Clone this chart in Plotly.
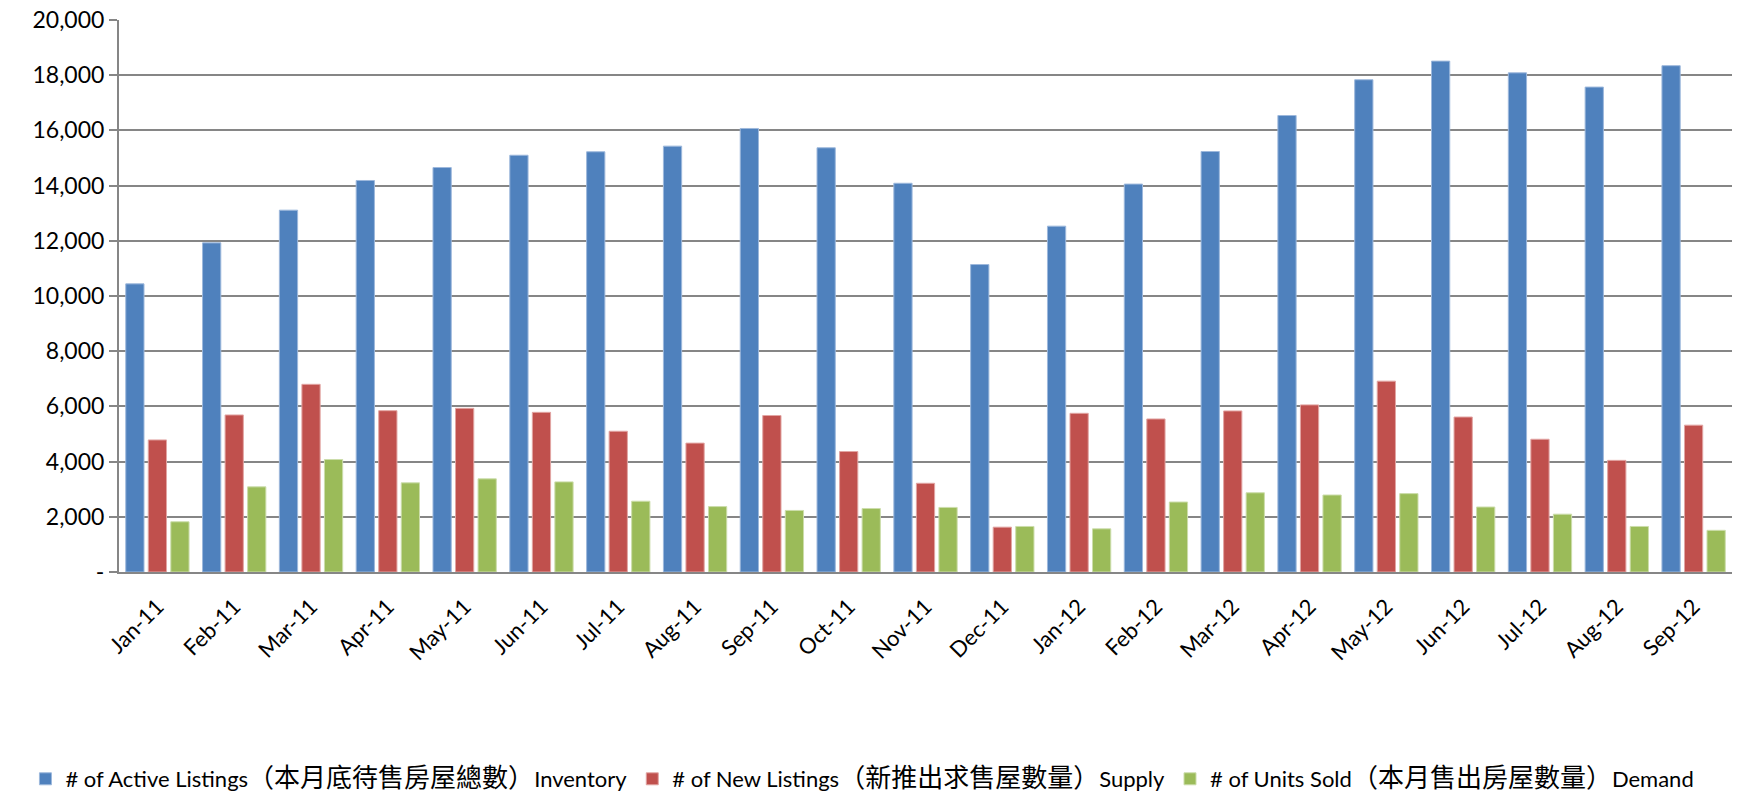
import plotly.graph_objects as go

months = ["Jan-11", "Feb-11", "Mar-11", "Apr-11", "May-11", "Jun-11", "Jul-11",
          "Aug-11", "Sep-11", "Oct-11", "Nov-11", "Dec-11", "Jan-12", "Feb-12",
          "Mar-12", "Apr-12", "May-12", "Jun-12", "Jul-12", "Aug-12", "Sep-12"]

active_listings = [10440, 11925, 13110, 14185, 14655, 15100, 15225,
                   15430, 16070, 15370, 14085, 11140, 12530, 14055,
                   15235, 16540, 17835, 18510, 18085, 17570, 18345]

new_listings = [4785, 5690, 6800, 5845, 5930, 5785, 5100,
                4670, 5670, 4365, 3215, 1625, 5750, 5545,
                5835, 6055, 6915, 5615, 4810, 4045, 5320]

units_sold = [1820, 3085, 4075, 3230, 3375, 3265, 2565,
              2370, 2230, 2300, 2340, 1650, 1565, 2535,
              2870, 2790, 2840, 2355, 2095, 1650, 1510]

name_en_before = ["# of Active Listings", "# of New Listings", "# of Units Sold"]
name_zh = ["（本月底待售房屋總數）", "（新推出求售屋數量）", "（本月售出房屋數量）"]
name_en_after = ["Inventory", "Supply", "Demand"]

y_tickvals = [0, 2000, 4000, 6000, 8000, 10000, 12000, 14000, 16000, 18000, 20000]
y_ticktext = ["-", "2,000", "4,000", "6,000", "8,000", "10,000", "12,000",
              "14,000", "16,000", "18,000", "20,000"]

colors = ["#4F81BD", "#C0504D", "#9BBB59"]
edge_colors = ["#9DB8DC", "#E2A5A3", "#CCDDAB"]

FONT = "Lato, 'Noto Sans CJK TC', sans-serif"

fig = go.Figure()
series = [active_listings, new_listings, units_sold]
for i in range(3):
    label = (name_en_before[i]
             + '<span style="font-size:26px">' + name_zh[i] + '</span>'
             + name_en_after[i])
    fig.add_trace(go.Bar(
        x=months, y=series[i], name=label,
        marker=dict(color=colors[i], line=dict(color=edge_colors[i], width=1)),
    ))

# page body has an 8px default margin, so the figure is sized/placed to compensate
fig.update_layout(
    width=1755, height=786,
    paper_bgcolor="white", plot_bgcolor="white",
    margin=dict(l=111, r=31, t=12, b=222, pad=0, autoexpand=False),
    barmode="group",
    bargap=0.12,
    bargroupgap=0.19,
    font=dict(family=FONT, size=23, color="#000000"),
    legend=dict(
        orientation="h",
        xref="paper", yref="paper",
        x=-0.058, xanchor="left",
        y=-0.375, yanchor="middle",
        font=dict(family=FONT, size=22, color="#000000"),
        itemwidth=30,
        tracegroupgap=0,
    ),
    showlegend=True,
)

fig.update_xaxes(
    type="category",
    tickangle=-45,
    tickfont=dict(family=FONT, size=22),
    showline=True, linecolor="#868686", linewidth=2,
    ticks="",
    ticklabelstandoff=11,
    showgrid=False,
    automargin=False,
)

fig.update_yaxes(
    range=[0, 20000],
    tickvals=y_tickvals, ticktext=y_ticktext,
    tickfont=dict(family=FONT, size=23),
    ticklabeloverflow="allow",
    showline=True, linecolor="#868686", linewidth=2,
    ticks="outside", ticklen=8, tickcolor="#868686", tickwidth=1.5,
    showgrid=True, gridcolor="#868686", gridwidth=1.5,
    zeroline=False,
    automargin=False,
)

fig.write_html("out.html")
